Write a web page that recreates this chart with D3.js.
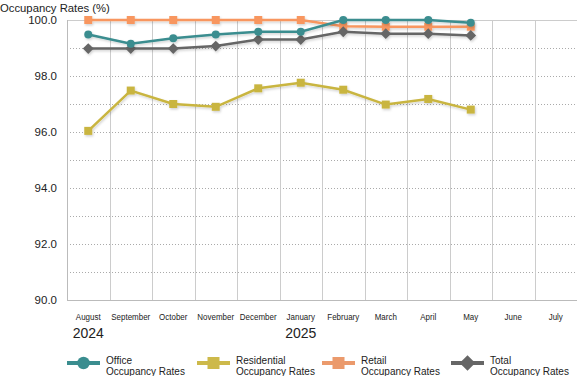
<!DOCTYPE html>
<html>
<head>
<meta charset="utf-8">
<script src="https://cdn.jsdelivr.net/npm/d3@7"></script>
<style>
  body { margin: 0; background: #fff; }
  text { font-family: "Liberation Sans", Arial, sans-serif; fill: #222; }
</style>
</head>
<body>
<div id="chart"></div>
<script>
// Occupancy rates, Aug 2024 - Jul 2025

const width = 577,
    height = 376,
    margin = ({ top: 20, right: 0, bottom: 76, left: 67 });

const months = ["August", "September", "October", "November", "December", "January",
  "February", "March", "April", "May", "June", "July"];
const years = [{ label: "2024", month: "August" }, { label: "2025", month: "January" }];
const yTicks = [90, 92, 94, 96, 98, 100];

const office = [99.48, 99.15, 99.35, 99.48, 99.58, 99.58, 100.0, 100.0, 100.0, 99.9];
const residential = [96.04, 97.48, 97.0, 96.9, 97.56, 97.76, 97.51, 96.98, 97.18, 96.8];
const retail = [100.0, 100.0, 100.0, 100.0, 100.0, 100.0, 99.78, 99.76, 99.76, 99.76];
const total = [98.98, 98.98, 98.98, 99.07, 99.3, 99.3, 99.58, 99.51, 99.51, 99.45];

const series = [
  { name: "Office", values: office, color: "#3a8d8f", shape: "circle", legendColor: "#3a8d8f", lx: 67 },
  { name: "Residential", values: residential, color: "#c9b540", shape: "square", legendColor: "#cdb94a", lx: 197 },
  { name: "Retail", values: retail, color: "#f8965e", shape: "square", legendColor: "#eb9a6c", lx: 322 },
  { name: "Total", values: total, color: "#666666", shape: "diamond", legendColor: "#666666", lx: 451 }
];

const svg = d3.select("#chart")
    .append("svg")
    .attr("width", width)
    .attr("height", height);

const defs = svg.append("defs");
const f = defs.append("filter").attr("id", "shadow")
    .attr("x", "-5%").attr("y", "-20%").attr("width", "110%").attr("height", "140%");
f.append("feDropShadow")
    .attr("dx", 1).attr("dy", 1.5).attr("stdDeviation", 0.8)
    .attr("flood-color", "#000").attr("flood-opacity", 0.18);

const x = d3.scaleBand()
    .domain(months)
    .range([margin.left, width - margin.right])
    .padding(0);

const y = d3.scaleLinear()
    .domain([90, 100])
    .range([height - margin.bottom, margin.top]);

const cx = m => x(m) + x.bandwidth() / 2;

// dotted horizontal grid, every 1.0
svg.append("g")
  .selectAll("line")
  .data(d3.range(91, 100))
  .join("line")
    .attr("x1", margin.left)
    .attr("x2", width)
    .attr("y1", d => Math.round(y(d)) + 0.5)
    .attr("y2", d => Math.round(y(d)) + 0.5)
    .attr("stroke", "#aaa")
    .attr("stroke-dasharray", "1,2");

// vertical grid
svg.append("g")
  .selectAll("line")
  .data(months.slice(1))
  .join("line")
    .attr("x1", d => Math.round(x(d)) + 0.5)
    .attr("x2", d => Math.round(x(d)) + 0.5)
    .attr("y1", y(100))
    .attr("y2", y(90))
    .attr("stroke", "#ccc");

// frame: top, left, bottom
svg.append("line")
    .attr("x1", margin.left).attr("x2", width)
    .attr("y1", y(100) + 0.5).attr("y2", y(100) + 0.5)
    .attr("stroke", "#ccc");
svg.append("line")
    .attr("x1", margin.left).attr("x2", width)
    .attr("y1", y(90) + 0.5).attr("y2", y(90) + 0.5)
    .attr("stroke", "#bbb");
svg.append("line")
    .attr("x1", margin.left + 0.5).attr("x2", margin.left + 0.5)
    .attr("y1", y(100)).attr("y2", y(90))
    .attr("stroke", "#bbb");

// y tick labels
svg.append("g")
  .selectAll("text")
  .data(yTicks)
  .join("text")
    .attr("x", 57)
    .attr("y", d => y(d) + 4)
    .attr("text-anchor", "end")
    .attr("font-size", "11.5px")
    .text(d => d.toFixed(1));

svg.append("text")
    .attr("x", 0)
    .attr("y", 12)
    .attr("font-size", "11.3px")
    .text("Occupancy Rates (%)");

// month labels (condensed look)
svg.append("g")
  .selectAll("text")
  .data(months)
  .join("text")
    .attr("transform", d => `translate(${cx(d)},319.5) scale(0.84,1)`)
    .attr("text-anchor", "middle")
    .attr("font-size", "9.5px")
    .text(d => d);

svg.append("g")
  .selectAll("text")
  .data(years)
  .join("text")
    .attr("x", d => cx(d.month))
    .attr("y", 338)
    .attr("text-anchor", "middle")
    .attr("font-size", "14px")
    .text(d => d.label);

function marker(sel, shape, s) {
  if (shape === "circle") return sel.append("circle").attr("r", s / 2);
  if (shape === "square") return sel.append("rect").attr("x", -s / 2).attr("y", -s / 2).attr("width", s).attr("height", s);
  const h = s * 0.6;
  return sel.append("path").attr("d", `M0,${-h}L${h},0L0,${h}L${-h},0Z`);
}

const line = d3.line()
    .x((d, i) => cx(months[i]))
    .y(d => y(d));

// draw so Retail sits under office/total at the top
const order = [series[1], series[2], series[3], series[0]];
order.forEach(s => {
  const g = svg.append("g").attr("filter", "url(#shadow)");
  g.append("path")
      .datum(s.values)
      .attr("fill", "none")
      .attr("stroke", s.color)
      .attr("stroke-width", 2.5)
      .attr("d", line);
  s.values.forEach((v, i) => {
    const m = g.append("g").attr("transform", `translate(${cx(months[i])},${y(v)})`);
    marker(m, s.shape, s.shape === "circle" ? 8 : s.shape === "diamond" ? 9 : 8).attr("fill", s.color);
  });
});

// legend
const legend = svg.append("g");
series.forEach(s => {
  const g = legend.append("g");
  g.append("line")
      .attr("x1", s.lx).attr("x2", s.lx + 33)
      .attr("y1", 363).attr("y2", 363)
      .attr("stroke", s.legendColor)
      .attr("stroke-width", 4);
  const m = g.append("g").attr("transform", `translate(${s.lx + 16.5},363)`);
  marker(m, s.shape, s.shape === "circle" ? 12.5 : s.shape === "diamond" ? 13 : 12).attr("fill", s.legendColor);
  g.append("text")
      .attr("x", s.lx + 39).attr("y", 364)
      .attr("font-size", "10px")
      .text(s.name);
  g.append("text")
      .attr("x", s.lx + 39).attr("y", 374.5)
      .attr("font-size", "10px")
      .text("Occupancy Rates");
});
</script>
</body>
</html>
